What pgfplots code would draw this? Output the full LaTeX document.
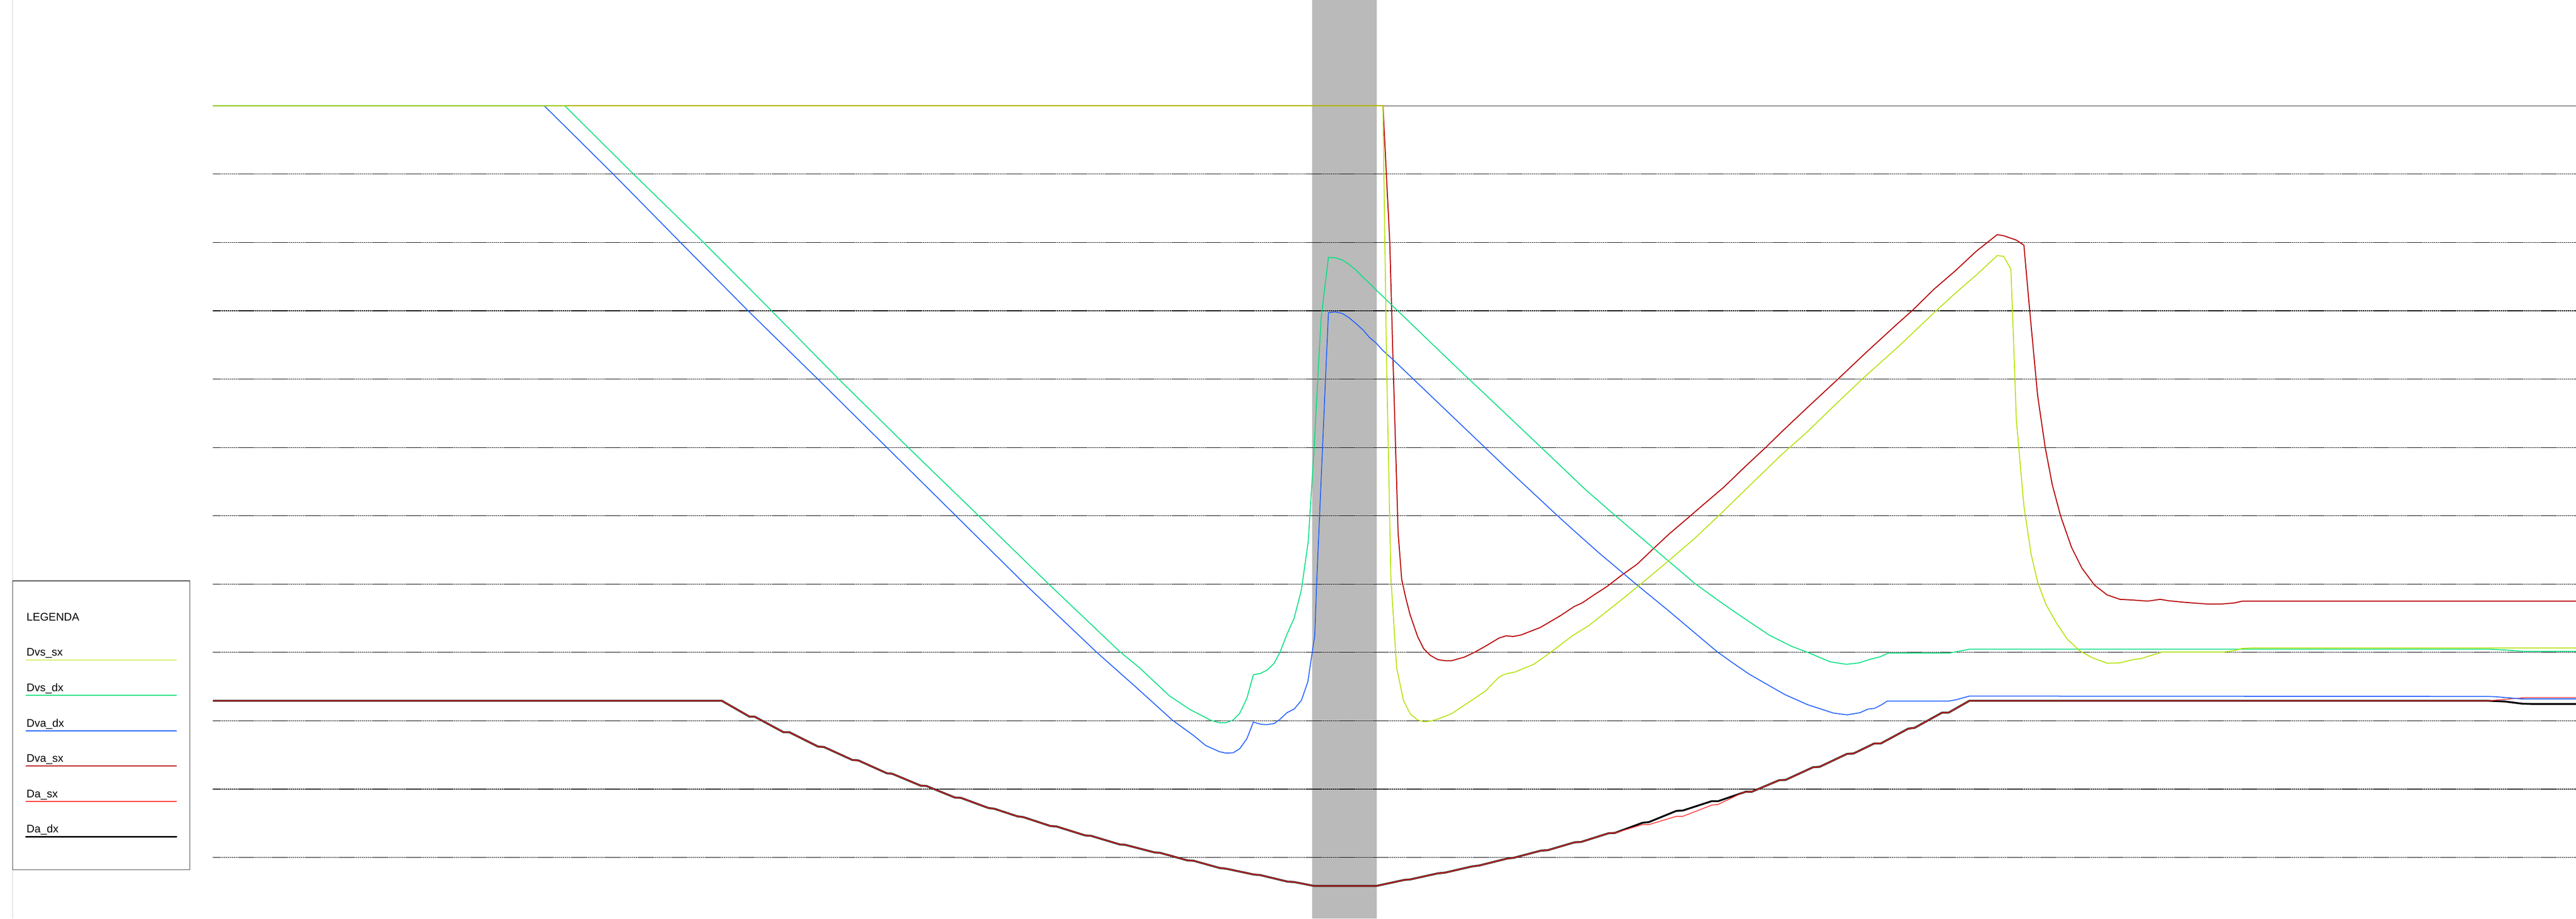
\documentclass[border=0pt]{standalone}
\usepackage{fontspec}
\setmainfont{Liberation Sans}
\usepackage{pgfplots}
\usepackage{pgfplotstable}
\pgfplotsset{compat=1.18}

\definecolor{cvssx}{RGB}{178,226,0}
\definecolor{cvsdx}{RGB}{0,224,128}
\definecolor{cvadx}{RGB}{32,96,255}
\definecolor{cvasx}{RGB}{185,0,0}
\definecolor{casx}{RGB}{255,48,48}
\definecolor{band}{RGB}{186,186,186}

% Dvs_sx
\pgfplotstableread{
x y
590 2082
3832 2082
3842 1375
3854 775
3870 525
3889 435
3908 397
3928 381
3945 376
3966 378
3986 384
4022 398
4058 422
4116 461
4154 500
4174 509
4196 513
4250 535
4295 567
4357 614
4402 642
4491 712
4563 771
4625 823
4696 884
4768 952
4848 1030
4938 1117
5009 1180
5080 1249
5161 1326
5268 1422
5359 1509
5417 1562
5476 1613
5534 1667
5552 1665
5572 1629
5579 1442
5587 1213
5608 974
5628 840
5646 763
5669 701
5699 648
5728 605
5763 572
5798 553
5839 538
5874 539
5910 548
5933 551
5962 560
5992 569
6162 569
6191 573
6214 579
6238 580
7138 580
}\dvssx

% Dvs_dx
\pgfplotstableread{
x y
590 2082
1565 2082
1756 1892
1950 1703
2137 1515
2324 1325
2516 1136
2710 948
2904 759
3103 570
3158 525
3240 448
3297 410
3355 380
3379 373
3397 373
3417 381
3435 399
3455 441
3473 506
3493 510
3511 519
3530 537
3547 569
3566 618
3586 663
3606 741
3625 875
3642 1145
3654 1375
3661 1496
3681 1662
3700 1661
3719 1655
3738 1643
3757 1627
3777 1607
3797 1588
3815 1570
4000 1392
4067 1328
4116 1282
4268 1138
4393 1019
4478 945
4580 858
4696 759
4768 707
4804 682
4902 616
4964 585
5009 568
5071 542
5116 535
5152 539
5179 548
5210 556
5232 566
5400 566
5417 569
5458 577
6894 577
6953 574
6988 571
7138 571
}\dvsdx

% Dva_dx
\pgfplotstableread{
x y
590 2082
1508 2082
1700 1892
1886 1703
2072 1515
2266 1325
2457 1136
2647 948
2838 759
3037 570
3144 475
3249 380
3307 338
3341 310
3379 293
3397 289
3417 290
3435 301
3455 329
3473 375
3493 369
3511 368
3531 371
3547 383
3566 401
3586 411
3606 435
3624 487
3643 615
3649 775
3675 1375
3681 1509
3700 1511
3719 1507
3738 1495
3757 1479
3777 1461
3795 1440
3813 1425
3831 1405
3864 1375
4000 1245
4112 1138
4179 1074
4313 949
4357 909
4429 845
4531 759
4625 682
4759 569
4804 537
4848 507
4946 451
5009 423
5080 400
5118 395
5154 401
5176 411
5194 413
5212 422
5229 433
5399 433
5421 437
5457 447
6894 446
6918 445
6953 442
6988 439
7138 439
}\dvadx

% Dva_sx
\pgfplotstableread{
x y
590 2082
3832 2082
3851 1703
3860 1375
3874 900
3884 770
3895 720
3907 673
3928 612
3945 578
3963 560
3984 548
4004 545
4022 545
4058 555
4089 570
4121 588
4154 608
4174 614
4192 612
4214 616
4268 637
4321 668
4362 695
4384 705
4415 726
4455 752
4491 780
4536 812
4580 854
4625 896
4679 942
4723 980
4777 1026
4835 1082
4893 1136
4938 1180
5009 1247
5094 1326
5170 1398
5254 1475
5300 1516
5359 1574
5417 1624
5476 1679
5534 1725
5552 1722
5587 1710
5608 1696
5622 1538
5646 1280
5667 1136
5687 1031
5710 945
5740 859
5769 801
5804 754
5839 727
5874 715
5910 713
5951 710
5986 715
6009 711
6050 707
6115 702
6156 702
6191 705
6214 710
6250 710
7138 710
}\dvasx

% Da_dx
\pgfplotstableread{
x y
590 434
2000 434
2077 390
2091 390
2171 347
2187 347
2267 307
2283 306
2362 270
2378 269
2458 233
2472 232
2551 199
2567 198
2646 166
2663 165
2739 137
2755 135
2819 114
2835 112
2911 87
2927 86
3007 61
3023 60
3103 36
3118 35
3199 14
3214 13
3290 -8
3307 -9
3379 -29
3397 -31
3473 -47
3493 -49
3568 -67
3586 -68
3642 -79
3813 -79
3892 -62
3907 -61
3984 -44
4004 -42
4078 -25
4100 -22
4176 -3
4194 -1
4270 19
4288 20
4363 42
4381 43
4457 67
4475 68
4551 96
4569 98
4645 129
4663 130
4743 156
4761 156
4837 182
4854 182
4930 214
4948 215
5024 250
5042 251
5118 287
5136 288
5194 316
5212 316
5288 357
5305 359
5381 401
5399 401
5457 434
6894 434
6941 432
6988 426
7020 425
7138 425
}\dadx

% Da_sx
\pgfplotstableread{
x y
590 434
2000 434
2077 390
2091 390
2171 347
2187 347
2267 307
2283 306
2362 270
2378 269
2458 233
2472 232
2551 199
2567 198
2646 166
2663 165
2739 137
2755 135
2819 114
2835 112
2911 87
2927 86
3007 61
3023 60
3103 36
3118 35
3199 14
3214 13
3290 -8
3307 -9
3379 -29
3397 -31
3473 -47
3493 -49
3568 -67
3586 -68
3642 -79
3813 -79
3892 -62
3907 -61
3984 -44
4004 -42
4078 -25
4100 -22
4176 -3
4194 -1
4270 19
4288 20
4363 42
4381 43
4457 67
4475 68
4551 91
4569 91
4645 114
4663 114
4743 145
4761 147
4832 181
4854 182
4930 214
4948 215
5024 250
5042 251
5118 287
5136 288
5194 316
5212 316
5288 357
5305 359
5381 401
5399 401
5457 434
6894 434
6918 436
7000 443
7138 443
}\dasx

\begin{document}
\begin{tikzpicture}
\begin{axis}[
  scale only axis,
  width=713.8mm, height=254.4mm,
  xmin=0, xmax=7138, ymin=-169, ymax=2375,
  hide axis,
]
% shaded interval
\addplot[fill=band, draw=none] coordinates {(3636,-169) (3815,-169) (3815,2375) (3636,2375)} \closedcycle;
% thin frame line on the left
\addplot[black!18, line width=0.2mm] coordinates {(35,-169) (35,2375)};
% horizontal grid
\pgfplotsinvokeforeach{0,...,10}{
  \addplot[black, line width=0.17mm, dash pattern=on 0.5mm off 0.08mm] coordinates {(590,#1*189.27) (7138,#1*189.27)};
}
\addplot[black!85, line width=0.2mm] coordinates {(590,2082) (7138,2082)};

\addplot[black, line width=0.5mm] table {\dadx};
\addplot[casx, line width=0.22mm] table {\dasx};
\addplot[cvasx, line width=0.28mm] table {\dvasx};
\addplot[cvadx, line width=0.25mm] table {\dvadx};
\addplot[cvsdx, line width=0.25mm] table {\dvsdx};
\addplot[cvssx, line width=0.25mm] table {\dvssx};

% legend
\draw[fill=white, draw=black!70, line width=0.2mm] (35,766) rectangle (526,-34);
\begin{scope}[every node/.style={anchor=base west, inner sep=0pt, font=\fontsize{8.7pt}{10pt}\selectfont}]
\node at (73,655) {LEGENDA};
\node at (73,558) {Dvs\_sx};
\node at (73,460) {Dvs\_dx};
\node at (73,362) {Dva\_dx};
\node at (73,264) {Dva\_sx};
\node at (73,166) {Da\_sx};
\node at (73,68) {Da\_dx};
\end{scope}
\draw[cvssx, line width=0.25mm] (72,547) -- (489,547);
\draw[cvsdx, line width=0.25mm] (72,449) -- (489,449);
\draw[cvadx, line width=0.25mm] (72,351) -- (489,351);
\draw[cvasx, line width=0.28mm] (72,253) -- (489,253);
\draw[casx, line width=0.25mm] (72,155) -- (489,155);
\draw[black, line width=0.45mm, line cap=round] (72,57) -- (489,57);
\end{axis}
\pgfresetboundingbox
\path[use as bounding box] (0,0) rectangle (713.8mm,254.4mm);
\end{tikzpicture}
\end{document}
